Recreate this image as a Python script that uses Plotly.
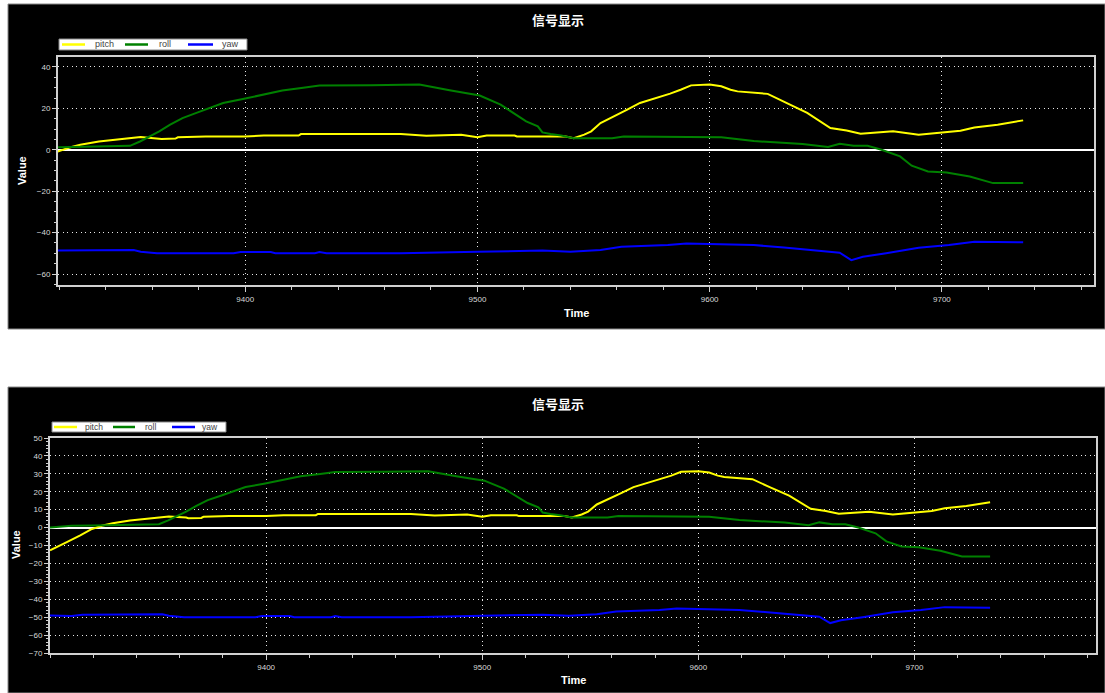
import plotly.graph_objects as go

W, H = 1105, 693

# ---------------- data ----------------
pitch_t = [9300, 9304, 9308, 9314, 9319, 9324, 9329, 9337, 9344, 9350, 9355, 9363, 9364, 9370, 9371,
           9383, 9400, 9408, 9423, 9424, 9467, 9478, 9493, 9500, 9504, 9516, 9517, 9538, 9541.5, 9546,
           9549, 9553, 9559, 9564.5, 9570, 9577, 9583, 9587.5, 9592, 9600, 9605, 9609, 9612, 9625, 9633,
           9642, 9652, 9659, 9665, 9679, 9690, 9699, 9708, 9714, 9724, 9735]
pitch_v = [-12.7, -10.5, -8.0, -4.3, -1.0, 1.0, 2.4, 4.0, 5.0, 5.6, 6.2, 5.6, 5.2, 5.4, 6.0,
           6.4, 6.4, 6.9, 6.9, 7.6, 7.6, 6.8, 7.3, 6.1, 6.9, 6.9, 6.4, 6.4, 5.6, 7.3,
           8.9, 12.9, 16.1, 19.4, 22.6, 25.0, 27.1, 29.0, 31.1, 31.5, 30.7, 29.0, 28.2, 27.0, 22.6,
           17.8, 10.5, 9.3, 7.7, 8.9, 7.3, 8.1, 9.2, 10.8, 12.1, 14.2]

roll_t = [9300, 9310, 9320, 9340, 9348, 9350.4, 9354.7, 9359, 9363, 9367.7, 9373, 9379, 9385, 9390.5, 9399,
          9408, 9416, 9425, 9432, 9454, 9467, 9475, 9488, 9501, 9510, 9515.6, 9521, 9526, 9528, 9531.5,
          9536, 9541.5, 9558, 9563, 9600, 9605, 9619, 9632, 9640, 9651, 9656, 9662, 9668, 9674, 9682,
          9687, 9694, 9702, 9712, 9722, 9735]
roll_v = [0.0, 1.0, 1.2, 1.5, 1.6, 1.9, 4.0, 6.4, 8.9, 12.1, 15.3, 17.8, 20.2, 22.6, 24.5,
          26.6, 28.6, 29.9, 31.0, 31.2, 31.5, 31.5, 28.7, 26.2, 21.8, 17.8, 13.7, 11.3, 8.4, 7.6,
          6.9, 5.6, 5.6, 6.4, 6.4, 6.1, 4.2, 3.2, 2.8, 1.3, 2.9, 1.9, 1.9, 0.0, -3.2,
          -7.7, -10.5, -11.0, -12.9, -16.1, -16.1]

yaw_t = [9300, 9310, 9315, 9340, 9352, 9355, 9362, 9395, 9398, 9411, 9413, 9430, 9432, 9435, 9467,
         9500, 9528, 9540, 9553, 9562, 9582, 9590, 9602, 9619, 9632, 9648, 9656, 9661, 9666, 9676,
         9690, 9703, 9714, 9735]
yaw_v = [-49.0, -49.3, -48.7, -48.4, -48.4, -49.2, -50.0, -50.0, -49.4, -49.4, -50.0, -50.0, -49.4, -50.0, -50.0,
         -49.2, -48.7, -49.2, -48.4, -46.8, -46.0, -45.2, -45.5, -46.0, -47.2, -48.9, -49.7, -53.3, -51.7, -50.0,
         -47.3, -46.0, -44.4, -44.7]

series_names = ["pitch", "roll", "yaw"]
series_colors = ["#FFFF00", "#008000", "#0000FF"]

x_tickvals = [9400, 9500, 9600, 9700]
x_ticktext = ["9400", "9500", "9600", "9700"]

title_text = "信号显示"
x_title = "Time"
y_title = "Value"

# ---------------- figure ----------------
def fx(px):
    return px / W

def fy(py):
    return 1 - py / H

fig = go.Figure()
series = [(pitch_t, pitch_v), (roll_t, roll_v), (yaw_t, yaw_v)]
for xa, ya in [("x", "y"), ("x2", "y2")]:
    for (t, v), name, color in zip(series, series_names, series_colors):
        fig.add_trace(go.Scatter(x=t, y=v, name=name, mode="lines",
                                 line=dict(color=color, width=2),
                                 xaxis=xa, yaxis=ya, hoverinfo="skip", showlegend=False))

frame_col = "#d0d0d0"
tick_font = dict(size=8, color="#d8d8d8", family="Liberation Sans, Arial, sans-serif")
grid_dash = "1px,3.5px"

def xaxis_style(domain, rng, anchor):
    return dict(domain=domain, range=rng, anchor=anchor, automargin=False,
                tickmode="array", tickvals=x_tickvals, ticktext=x_ticktext,
                showline=True, linecolor=frame_col, linewidth=2, mirror=True,
                ticks="outside", ticklen=5, tickwidth=1, tickcolor=frame_col,
                tickfont=tick_font, showgrid=True, gridcolor="#e8e8e8", gridwidth=1,
                griddash=grid_dash, zeroline=False,
                minor=dict(dtick=20, tick0=0, ticks="outside", ticklen=3, tickcolor=frame_col,
                           showgrid=False))

def yaxis_style(domain, rng, anchor, dtick, mdtick):
    return dict(domain=domain, range=rng, anchor=anchor, automargin=False,
                dtick=dtick, tick0=0,
                showline=True, linecolor=frame_col, linewidth=2, mirror=True,
                ticks="outside", ticklen=4, tickwidth=1, tickcolor=frame_col,
                tickfont=tick_font, showgrid=True, gridcolor="#e8e8e8", gridwidth=1,
                griddash=grid_dash, zeroline=True, zerolinecolor="white", zerolinewidth=2,
                minor=dict(dtick=mdtick, tick0=0, ticks="outside", ticklen=2, tickcolor=frame_col,
                           showgrid=False))

fig.update_layout(
    width=W, height=H,
    margin=dict(l=0, r=0, t=0, b=0, pad=0, autoexpand=False),
    paper_bgcolor="white", plot_bgcolor="black",
    showlegend=False,
    xaxis=xaxis_style([fx(58), fx(1094)], [9319.4, 9765.5], "y"),
    yaxis=yaxis_style([fy(285), fy(57)], [-65.3, 44.8], "x", 20, 5),
    xaxis2=xaxis_style([fx(50), fx(1096)], [9300, 9784], "y2"),
    yaxis2=yaxis_style([fy(653), fy(438)], [-70, 50], "x2", 10, 2),
)

# black panel backgrounds
for (x0, y0, x1, y1) in [(8, 4, 1105, 329), (8, 387, 1105, 693)]:
    fig.add_shape(type="rect", xref="paper", yref="paper",
                  x0=fx(x0), x1=fx(x1), y0=fy(y1), y1=fy(y0),
                  fillcolor="black", line=dict(color="#888888", width=1), layer="below")

# legends (one per panel): box, key line, label
legend_specs = [
    dict(box=(59, 39, 247, 50), keys=[(62, 85), (125, 148), (188, 213)], text_x=[93, 157, 220], size=9),
    dict(box=(52, 422, 226, 432), keys=[(54, 77), (113, 135), (172, 195)], text_x=[83, 143, 200], size=8.5),
]
for spec in legend_specs:
    bx0, by0, bx1, by1 = spec["box"]
    yc = (by0 + by1) / 2
    fig.add_shape(type="rect", xref="paper", yref="paper",
                  x0=fx(bx0), x1=fx(bx1), y0=fy(by1), y1=fy(by0),
                  fillcolor="white", line=dict(color="#888888", width=1), layer="above")
    for (kx0, kx1), tx, name, color in zip(spec["keys"], spec["text_x"], series_names, series_colors):
        fig.add_shape(type="line", xref="paper", yref="paper",
                      x0=fx(kx0), x1=fx(kx1), y0=fy(yc), y1=fy(yc),
                      line=dict(color=color, width=2.5), layer="above")
        fig.add_annotation(text=name, x=fx(tx), y=fy(yc), xref="paper", yref="paper",
                           showarrow=False, xanchor="left", yanchor="middle",
                           font=dict(size=spec["size"], color="#444444",
                                     family="Liberation Sans, Arial, sans-serif"))

# titles and axis titles
ann_font_title = dict(size=13, color="white", family="Noto Sans CJK SC")
ann_font_axis = dict(size=11, color="white", family="Liberation Sans, Arial, sans-serif")
for (tx, ty) in [(558, 19), (558, 404)]:
    fig.add_annotation(text="<b>" + title_text + "</b>", x=fx(tx), y=fy(ty), xref="paper", yref="paper",
                       showarrow=False, font=ann_font_title, xanchor="center", yanchor="middle")
for (tx, ty) in [(576, 313), (573, 680)]:
    fig.add_annotation(text="<b>" + x_title + "</b>", x=fx(tx), y=fy(ty), xref="paper", yref="paper",
                       showarrow=False, font=ann_font_axis, xanchor="center", yanchor="middle")
for (tx, ty) in [(22, 171), (16, 545)]:
    fig.add_annotation(text="<b>" + y_title + "</b>", x=fx(tx), y=fy(ty), xref="paper", yref="paper",
                       showarrow=False, font=ann_font_axis, textangle=-90,
                       xanchor="center", yanchor="middle")

fig.write_html("out.html", config={"displayModeBar": False},
               post_script="document.body.style.margin='0px';")
